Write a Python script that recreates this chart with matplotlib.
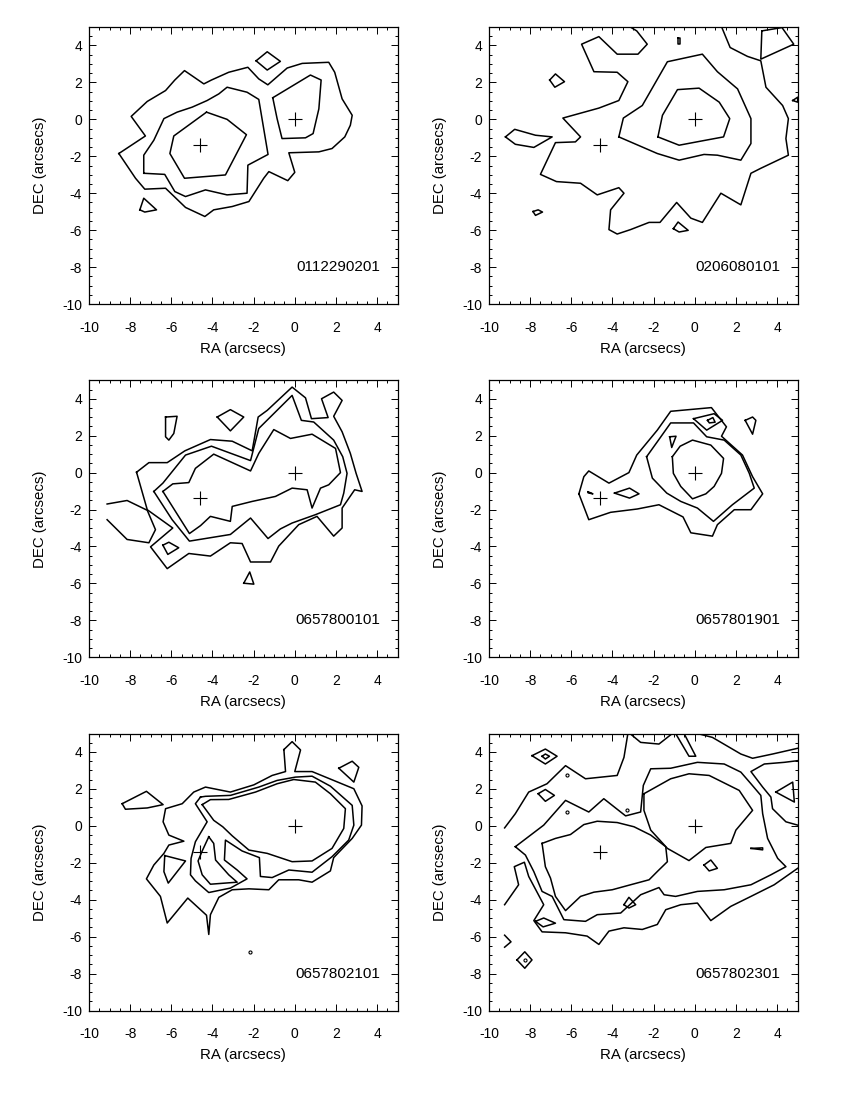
import numpy as np
import matplotlib.pyplot as plt
from matplotlib.ticker import MultipleLocator

plt.rcParams['font.family'] = ['Liberation Sans', 'DejaVu Sans']
plt.rcParams['axes.unicode_minus'] = False

obs_ids = ['0112290201', '0206080101', '0657800101',
           '0657801901', '0657802101', '0657802301']

# the two source positions (arcsec), marked in every panel
src_ra = [0.0, -4.6]
src_dec = [0.0, -1.4]

# ---- 0112290201 ----
p1_outer = [(-8.55, -1.85), (-7.26, -0.90), (-7.95, 0.16), (-7.17, 0.97), (-6.28, 1.56), (-5.83, 2.13),
            (-5.36, 2.64), (-4.42, 1.92), (-4.05, 2.13), (-3.21, 2.55), (-2.28, 2.82), (-1.75, 2.19),
            (-1.31, 1.87), (-0.37, 2.78), (0.36, 3.03), (1.65, 3.09), (1.94, 2.55), (2.30, 1.11),
            (2.79, 0.22), (2.70, -0.32), (2.43, -0.95), (1.81, -1.58), (1.17, -1.76), (-0.29, -1.81),
            (0.0, -2.87), (-0.34, -3.32), (-1.26, -2.83), (-1.51, -3.19), (-2.23, -4.45), (-3.04, -4.72),
            (-3.94, -4.90), (-4.37, -5.26), (-5.31, -4.77), (-6.28, -3.73), (-7.29, -3.78), (-7.74, -3.19)]
p1_mid = [(-7.34, -2.92), (-6.32, -2.98), (-5.83, -3.91), (-5.31, -4.18), (-4.34, -3.82), (-3.29, -4.09),
          (-2.32, -4.0), (-2.28, -2.48), (-1.30, -1.90), (-1.75, 1.08), (-2.32, 1.47), (-3.29, 1.74),
          (-3.69, 1.38), (-4.26, 1.02), (-4.99, 0.66), (-5.72, 0.39), (-6.36, 0.04), (-6.85, -1.13),
          (-7.34, -1.94)]
p1_inner = [(-4.29, 0.39), (-3.29, 0.0), (-2.35, -0.83), (-3.37, -3.01), (-5.36, -3.19), (-6.07, -1.85),
            (-5.88, -0.90)]
p1_east = [(-1.07, 1.17), (0.76, 2.40), (1.28, 2.13), (1.17, 0.57), (0.89, -0.77), (0.52, -1.00),
           (-0.62, -1.04), (-0.86, 0.04)]
p1_isl1 = [(-1.88, 3.17), (-1.34, 3.66), (-0.70, 3.14), (-1.34, 2.67)]
p1_isl2 = [(-7.53, -4.90), (-7.34, -4.27), (-6.72, -4.90), (-7.29, -5.02)]

# ---- 0206080101 ----
p2_outer = [(-3.28, 5.1), (-2.82, 4.79), (-2.31, 4.07), (-2.76, 3.53), (-3.77, 3.53), (-4.66, 4.48),
            (-5.50, 4.07), (-4.90, 2.58), (-3.77, 2.55), (-3.25, 2.04), (-3.69, 1.02), (-4.66, 0.61),
            (-6.41, 0.07), (-5.55, -0.95), (-5.80, -1.22), (-6.77, -1.26), (-7.50, -2.98), (-6.72, -3.37),
            (-5.55, -3.46), (-4.74, -4.09), (-3.69, -3.70), (-3.44, -4.0), (-4.09, -4.90), (-4.17, -5.97),
            (-3.77, -6.21), (-3.12, -5.97), (-2.22, -5.58), (-1.69, -5.58), (-0.88, -4.50), (-0.19, -5.35),
            (0.37, -5.58), (1.27, -4.0), (2.24, -4.63), (2.73, -2.92), (3.21, -2.65), (4.55, -1.94),
            (4.43, -1.04), (4.55, 0.04), (4.27, 0.75), (3.46, 1.74), (3.21, 3.17), (2.56, 3.41),
            (1.72, 3.89), (1.27, 5.1)]
p2_mid = [(-3.69, -0.95), (-3.47, 0.07), (-2.55, 0.75), (-1.33, 3.12), (0.37, 3.53), (1.10, 2.58),
          (2.08, 1.65), (2.73, 0.04), (2.73, -1.31), (2.24, -2.21), (1.10, -1.94), (0.45, -1.90),
          (-0.76, -2.21), (-1.82, -1.85)]
p2_inner = [(-1.79, -0.95), (-1.57, 0.22), (-0.84, 1.61), (0.21, 1.69), (1.19, 0.93), (1.70, 0.04),
            (1.40, -0.95), (0.29, -1.18), (-0.76, -1.40)]
p2_isl1 = [(-7.05, 2.13), (-6.77, 2.46), (-6.33, 2.04), (-6.80, 1.74)]
p2_isl2 = [(-9.20, -0.95), (-8.75, -0.54), (-7.74, -0.86), (-6.93, -0.95), (-7.82, -1.52), (-8.72, -1.35)]
p2_isl3 = [(3.26, 4.79), (4.24, 4.97), (4.81, 4.07), (3.21, 3.26)]
p2_isl4 = [(-7.86, -4.99), (-7.61, -4.90), (-7.40, -5.02), (-7.74, -5.20)]
p2_isl5 = [(-1.04, -5.92), (-0.81, -5.56), (-0.32, -6.01), (-0.76, -6.10)]
p2_isl6 = [(-0.80, 4.40), (-0.74, 4.40), (-0.74, 4.07), (-0.80, 4.07)]
p2_edge = [(4.76, 1.02), (5.0, 1.20), (5.0, 0.93), (4.76, 1.02)]

# ---- 0657800101 ----
p3_l1 = [(-7.69, 0.02), (-7.09, 0.54), (-6.20, 0.54), (-5.34, 1.18), (-4.10, 1.79), (-3.04, 1.70),
         (-2.07, 1.18), (-1.78, 3.01), (-1.34, 3.37), (-0.13, 4.63), (0.52, 4.05), (0.81, 2.92),
         (1.62, 2.98), (1.30, 4.0), (1.89, 4.36), (2.30, 3.91), (1.89, 3.05), (2.30, 2.21), (2.70, 1.04),
         (2.98, -0.04), (3.27, -1.02), (2.91, -0.93), (2.30, -1.92), (2.30, -3.0), (1.89, -3.44),
         (1.08, -2.37), (0.19, -2.82), (-0.78, -3.98), (-1.18, -4.84), (-2.15, -4.84), (-2.56, -3.84),
         (-3.13, -3.80), (-4.10, -4.52), (-5.15, -4.38), (-6.20, -5.20), (-7.01, -4.02), (-5.93, -3.0),
         (-7.17, -2.01)]
p3_l2 = [(-6.85, -1.02), (-6.41, -0.57), (-5.31, 0.95), (-4.05, 1.43), (-2.15, 0.65), (-1.75, 2.39),
         (-0.13, 4.18), (0.32, 2.83), (0.92, 2.74), (1.89, 1.76), (2.33, 0.86), (2.54, -0.04),
         (2.38, -1.11), (2.22, -1.74), (1.0, -2.28), (-0.13, -2.73), (-0.70, -3.05), (-1.30, -3.57),
         (-2.15, -2.46), (-3.13, -3.35), (-5.12, -3.71), (-5.96, -2.55)]
p3_l3 = [(-6.41, -1.02), (-5.93, -0.61), (-5.15, -0.54), (-4.83, 0.23), (-3.94, 1.0), (-2.15, 0.09),
         (-1.75, 1.04), (-1.02, 2.33), (-0.21, 1.85), (0.84, 2.08), (1.98, 1.31), (2.22, 0.0),
         (1.65, -0.66), (1.25, -0.84), (0.84, -1.92), (0.60, -0.93), (-0.13, -0.84), (-0.94, -1.29),
         (-2.07, -1.56), (-3.04, -1.83), (-3.13, -2.64), (-4.10, -2.37), (-4.58, -2.87), (-5.12, -3.30)]
p3_west = [(-9.12, -1.70), (-8.15, -1.51), (-7.17, -2.04), (-6.77, -3.09), (-7.09, -3.80), (-8.15, -3.62),
           (-9.12, -2.55)]
p3_isl1 = [(-3.77, 3.01), (-3.13, 3.41), (-2.48, 3.01), (-3.13, 2.26)]
p3_isl2 = [(-6.28, 3.01), (-5.72, 3.05), (-5.88, 2.12), (-6.12, 1.76), (-6.28, 1.94)]
p3_isl3 = [(-6.41, -3.93), (-6.12, -3.77), (-5.64, -4.07), (-6.17, -4.43)]
p3_isl4 = [(-2.48, -5.99), (-2.19, -5.38), (-1.99, -6.04)]

# ---- 0657801901 ----
p4_l1 = [(-5.63, -1.15), (-5.39, -0.22), (-5.15, 0.09), (-4.17, -0.57), (-3.20, 0.0), (-2.82, 0.95),
         (-1.82, 2.30), (-1.17, 3.32), (0.81, 3.52), (1.54, 2.48), (1.30, 1.97), (2.32, 0.95),
         (2.81, -0.22), (3.30, -1.15), (2.73, -2.01), (1.92, -2.01), (1.10, -2.82), (0.86, -3.44),
         (-0.19, -3.26), (-0.57, -2.40), (-1.74, -1.74), (-2.79, -1.97), (-4.09, -2.15), (-5.15, -2.55)]
p4_l2 = [(-2.34, 0.86), (-1.82, 1.67), (-1.17, 2.69), (-0.06, 2.69), (0.58, 1.94), (1.43, 1.76),
         (2.24, 0.95), (2.65, -0.04), (2.89, -0.84), (1.83, -1.74), (0.91, -2.64), (0.13, -1.92),
         (-0.68, -1.56), (-1.36, -1.11), (-2.06, -0.30)]
p4_l3 = [(-1.09, 0.86), (-0.71, 1.43), (-0.11, 1.76), (0.78, 1.49), (1.40, 0.77), (1.30, -0.04),
         (0.94, -0.75), (0.54, -1.15), (-0.11, -1.42), (-0.68, -0.75), (-1.04, -0.04)]
p4_isl1 = [(-0.06, 2.92), (0.94, 3.19), (1.35, 2.83), (0.58, 2.30)]
p4_isl2 = [(0.62, 2.83), (0.88, 2.98), (0.99, 2.73), (0.71, 2.69)]
p4_isl3 = [(-1.22, 1.94), (-0.91, 1.97), (-1.12, 1.36)]
p4_isl4 = [(2.45, 2.83), (2.81, 3.01), (2.97, 2.83), (2.81, 2.08)]
p4_isl5 = [(-3.90, -1.11), (-3.17, -0.84), (-2.71, -1.15), (-3.17, -1.38)]
p4_isl6 = [(-5.18, -1.04), (-4.95, -1.15), (-5.18, -1.10)]

# ---- 0657802101 ----
p5_l1 = [(-0.53, 4.13), (-0.13, 4.56), (0.28, 4.11), (0.0, 2.94), (0.84, 2.94), (1.89, 2.46), (2.87, 2.01),
         (3.27, 1.08), (3.24, 0.04), (2.79, -0.68), (1.89, -1.72), (1.73, -2.44), (0.84, -3.05),
         (0.19, -2.92), (-0.78, -2.92), (-1.26, -3.46), (-2.23, -3.41), (-3.04, -3.46), (-3.69, -3.87),
         (-4.10, -4.81), (-4.18, -5.88), (-4.29, -4.84), (-5.20, -3.91), (-6.20, -5.26), (-6.53, -3.82),
         (-7.21, -2.87), (-6.85, -2.12), (-6.36, -1.49), (-6.12, -1.04), (-5.39, -0.83), (-6.12, -0.50),
         (-6.40, 0.22), (-6.28, 0.93), (-5.47, 1.20), (-4.91, 1.83), (-4.34, 2.10), (-3.13, 1.83),
         (-1.99, 2.22), (-1.10, 2.73), (-0.45, 2.94)]
p5_l2 = [(-4.58, 1.56), (-4.83, 1.20), (-4.26, 0.22), (-4.83, -0.86), (-5.04, -1.76), (-5.07, -2.65),
         (-4.83, -2.98), (-4.18, -3.61), (-3.13, -3.37), (-2.32, -2.87), (-2.80, -2.39), (-3.42, -1.85),
         (-3.37, -0.77), (-2.56, -1.36), (-1.72, -1.72), (-1.67, -2.74), (-1.10, -2.80), (-0.29, -2.39),
         (0.84, -2.51), (1.81, -1.67), (2.62, -0.77), (2.87, 0.04), (2.79, 1.11), (1.73, 2.15),
         (0.84, 2.69), (0.03, 2.64), (-0.86, 2.46), (-1.75, 2.10), (-3.13, 1.65), (-4.34, 1.60)]
p5_l3 = [(-4.50, 1.15), (-4.10, 1.42), (-3.21, 1.43), (-1.91, 1.83), (-0.86, 2.28), (-0.05, 2.51),
         (1.0, 2.37), (1.73, 1.74), (2.46, 0.93), (2.38, -0.14), (1.81, -1.22), (0.84, -1.90),
         (-0.13, -1.94), (-1.34, -1.49), (-2.23, -1.31), (-3.04, -0.54), (-3.50, -0.05), (-3.94, 0.30)]
p5_l3b = [(-4.18, -0.59), (-3.94, -0.95), (-3.85, -1.85), (-3.21, -2.65), (-2.80, -3.05), (-4.10, -3.16),
          (-4.50, -2.65), (-4.70, -1.90), (-4.50, -1.36)]
p5_isl1 = [(-6.32, -1.61), (-5.31, -1.90), (-6.15, -3.10), (-6.36, -2.48)]
p5_isl2 = [(2.14, 3.12), (2.79, 3.50), (3.11, 3.17), (2.87, 2.37)]
p5_isl3 = [(-8.39, 1.20), (-7.21, 1.87), (-6.40, 1.15), (-7.17, 0.97), (-8.23, 0.90)]
p5_dots = [(-2.20, -6.82)]

# ---- 0657802301 ----
p6_nw = [(-9.24, -0.11), (-8.72, 0.66), (-8.07, 1.83), (-7.18, 2.28), (-6.28, 3.26), (-5.31, 2.55),
         (-3.77, 2.73), (-3.44, 3.71), (-3.25, 5.0)]
p6_top1 = [(-3.15, 5.0), (-2.63, 4.52), (-1.74, 4.43), (-1.09, 5.0)]
p6_top2 = [(-0.93, 5.0), (-0.28, 3.77), (0.05, 3.77), (-0.52, 5.0)]
p6_top3 = [(0.13, 5.0), (0.86, 4.79), (2.24, 3.89), (2.81, 3.66), (3.78, 3.89), (5.0, 4.20)]
p6_east = [(5.0, 3.53), (4.35, 3.44), (3.38, 3.35), (2.73, 2.94), (3.30, 2.10), (3.70, 1.56), (3.78, 0.93),
           (4.43, 0.22), (5.0, 0.04)]
p6_south = [(-9.24, -4.27), (-8.56, -3.19), (-8.77, -2.21), (-8.28, -1.97), (-8.07, -2.74), (-7.34, -4.27),
            (-7.82, -5.13), (-7.42, -5.74), (-6.28, -5.79), (-5.23, -5.97), (-4.66, -6.42), (-4.17, -5.70),
            (-3.44, -5.52), (-2.55, -5.61), (-1.82, -5.34), (-1.41, -4.54), (-0.68, -4.27), (0.13, -4.18),
            (0.78, -5.13), (1.75, -4.36), (2.73, -3.82), (3.86, -3.19), (5.0, -2.30)]
p6_l2 = [(-8.72, -1.13), (-7.34, 0.04), (-6.28, 1.38), (-5.15, 0.75), (-4.42, 1.47), (-3.36, 0.54),
         (-2.63, 0.75), (-2.50, 2.19), (-2.14, 3.09), (-1.17, 3.12), (0.13, 3.44), (1.43, 3.35),
         (2.24, 2.91), (2.73, 2.28), (3.21, 1.65), (3.30, 0.66), (3.54, -0.68), (4.03, -1.76),
         (4.43, -2.21), (3.70, -2.65), (2.73, -3.19), (1.43, -3.46), (0.13, -3.55), (-0.93, -3.82),
         (-1.49, -3.73), (-1.74, -3.34), (-2.63, -3.73), (-3.60, -4.72), (-4.74, -4.81), (-5.31, -5.17),
         (-6.36, -5.08), (-6.93, -3.82), (-7.42, -3.55), (-7.82, -2.48), (-8.23, -1.58)]
p6_west_peak = [(-7.42, -0.95), (-6.77, -0.68), (-6.04, -0.47), (-5.39, 0.07), (-4.74, 0.25), (-3.77, 0.18),
                (-2.95, -0.05), (-2.14, -0.50), (-1.41, -1.13), (-1.33, -1.94), (-1.79, -2.44),
                (-2.22, -2.92), (-3.12, -3.19), (-4.01, -3.46), (-4.90, -3.59), (-5.55, -3.82),
                (-6.28, -4.59), (-6.77, -3.82), (-7.01, -2.83), (-7.26, -2.21)]
p6_east_peak = [(-2.47, 1.74), (-1.17, 2.55), (-0.28, 2.82), (0.70, 2.73), (2.16, 1.92), (2.81, 0.84),
                (2.0, -0.23), (1.75, -0.95), (0.54, -1.17), (-0.28, -1.88), (-1.33, -1.22), (-2.14, -0.23),
                (-2.47, 0.84)]
p6_isl1 = [(-7.91, 3.80), (-7.26, 4.16), (-6.69, 3.77), (-7.26, 3.35)]
p6_isl2 = [(-7.42, 3.77), (-7.26, 3.89), (-7.06, 3.77), (-7.26, 3.62)]
p6_isl3 = [(-7.61, 1.74), (-7.26, 1.97), (-6.82, 1.65), (-7.26, 1.33)]
p6_isl4 = [(-3.44, -4.27), (-3.20, -3.87), (-2.87, -4.27), (-3.20, -4.45)]
p6_isl5 = [(-7.74, -5.17), (-7.34, -4.99), (-6.77, -5.27), (-7.37, -5.47)]
p6_isl6 = [(-8.64, -7.26), (-8.26, -6.82), (-7.91, -7.26), (-8.26, -7.71)]
p6_isl7 = [(0.45, -2.12), (0.78, -1.85), (1.10, -2.30), (0.70, -2.44)]
p6_isl8 = [(3.94, 1.83), (4.76, 2.37), (4.84, 1.29)]
p6_isl9 = [(2.73, -1.22), (3.30, -1.19), (3.30, -1.30)]
p6_edge = [(-9.24, -5.92), (-8.93, -6.28), (-9.24, -6.57)]
p6_dots = [(-6.23, 2.73), (-6.23, 0.75), (-3.28, 0.84), (-8.26, -7.26)]

# (contour, closed) per panel
panels = [
    [(p1_outer, True), (p1_mid, True), (p1_inner, True), (p1_east, True), (p1_isl1, True), (p1_isl2, True)],
    [(p2_outer, False), (p2_mid, True), (p2_inner, True), (p2_isl1, True), (p2_isl2, True), (p2_isl3, True),
     (p2_isl4, True), (p2_isl5, True), (p2_isl6, True), (p2_edge, False)],
    [(p3_l1, True), (p3_l2, True), (p3_l3, True), (p3_west, False), (p3_isl1, True), (p3_isl2, True),
     (p3_isl3, True), (p3_isl4, True)],
    [(p4_l1, True), (p4_l2, True), (p4_l3, True), (p4_isl1, True), (p4_isl2, True), (p4_isl3, True),
     (p4_isl4, True), (p4_isl5, True), (p4_isl6, True)],
    [(p5_l1, True), (p5_l2, True), (p5_l3, True), (p5_l3b, True), (p5_isl1, True), (p5_isl2, True),
     (p5_isl3, True)],
    [(p6_nw, False), (p6_top1, False), (p6_top2, False), (p6_top3, False), (p6_east, False),
     (p6_south, False), (p6_l2, True), (p6_west_peak, True), (p6_east_peak, True), (p6_isl1, True),
     (p6_isl2, True), (p6_isl3, True), (p6_isl4, True), (p6_isl5, True), (p6_isl6, True), (p6_isl7, True),
     (p6_isl8, True), (p6_isl9, True), (p6_edge, False)],
]
panel_dots = [[], [], [], [], p5_dots, p6_dots]

fig = plt.figure(figsize=(8.51, 10.94), dpi=100)
lefts = [0.1046, 0.5746]
bottoms = [0.7221, 0.3992, 0.0763]

for i in range(6):
    ax = fig.add_axes([lefts[i % 2], bottoms[i // 2], 0.3627, 0.2532])
    for pts, closed in panels[i]:
        arr = np.array(pts)
        if closed:
            arr = np.vstack([arr, arr[:1]])
        ax.plot(arr[:, 0], arr[:, 1], 'k-', lw=1.1)
    for d in panel_dots[i]:
        ax.plot(d[0], d[1], 'o', ms=2.2, mfc='none', mec='k', mew=0.8)
    ax.plot(src_ra, src_dec, 'k+', ms=10, mew=0.8)
    ax.text(4.15, -8.0, obs_ids[i], ha='right', va='center', fontsize=11)

    ax.set_xlim(-10, 5)
    ax.set_ylim(-10, 5)
    ax.xaxis.set_major_locator(MultipleLocator(2))
    ax.yaxis.set_major_locator(MultipleLocator(2))
    ax.xaxis.set_minor_locator(MultipleLocator(0.5))
    ax.yaxis.set_minor_locator(MultipleLocator(0.5))
    ax.tick_params(which='both', direction='in', top=True, right=True, width=0.7, labelsize=10)
    ax.tick_params(which='major', length=5)
    ax.tick_params(which='minor', length=2.5)
    ax.tick_params(axis='x', pad=12)
    ax.tick_params(axis='y', pad=5)
    for s in ax.spines.values():
        s.set_linewidth(0.9)
    ax.set_xlabel('RA (arcsecs)', fontsize=10.8, labelpad=5)
    ax.set_ylabel('DEC (arcsecs)', fontsize=10.8, labelpad=11)

plt.savefig('out.png', dpi=100)
